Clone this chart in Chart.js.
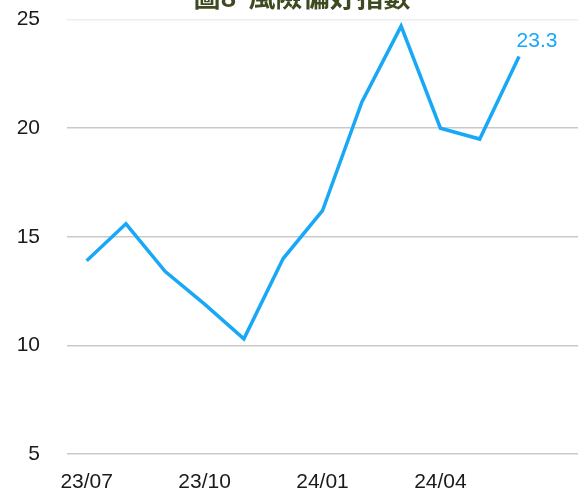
<!DOCTYPE html>
<html>
<head>
<meta charset="utf-8">
<script src="https://cdn.jsdelivr.net/npm/chart.js@4"></script>
<style>
  html, body { margin: 0; padding: 0; background: #ffffff; }
  #wrap { position: relative; width: 578px; height: 491px; overflow: hidden; }
  #box { position: absolute; left: 0; top: -20px; width: 604px; height: 515px; }
</style>
</head>
<body>
<div id="wrap"><div id="box"><canvas id="c"></canvas></div></div>
<script>
const chartTitle = '圖8  風險偏好指數';
const categories = ['23/07','23/08','23/09','23/10','23/11','23/12','24/01','24/02','24/03','24/04','24/05','24/06'];
const riskIndex = [13.9, 15.6, 13.4, 11.9, 10.3, 14.0, 16.2, 21.2, 24.7, 20.0, 19.5, 23.3];
const shownTicks = ['23/07','23/10','24/01','24/04'];
const yTicks = [5, 10, 15, 20, 25];

const lineColor = '#18a8f6';
const labels = categories.concat(['']);

const lastLabel = {
  id: 'lastLabel',
  afterDatasetsDraw(chart) {
    const meta = chart.getDatasetMeta(0);
    const i = riskIndex.length - 1;
    const pt = meta.data[i];
    const ctx = chart.ctx;
    ctx.save();
    ctx.font = '21px "Liberation Sans", Arial, sans-serif';
    ctx.fillStyle = lineColor;
    ctx.textAlign = 'center';
    ctx.textBaseline = 'middle';
    ctx.fillText(riskIndex[i].toFixed(1), pt.x + 18, pt.y - 15);
    ctx.restore();
  }
};

new Chart(document.getElementById('c'), {
  type: 'line',
  data: {
    labels: labels,
    datasets: [{
      data: riskIndex,
      yAxisID: 'y',
      borderColor: lineColor,
      backgroundColor: lineColor,
      borderWidth: 3.5,
      pointRadius: 0,
      tension: 0,
      fill: false
    }]
  },
  options: {
    responsive: true,
    maintainAspectRatio: false,
    animation: false,
    devicePixelRatio: 1,
    layout: { padding: 0 },
    plugins: {
      legend: { display: false },
      tooltip: { enabled: false },
      title: {
        display: true,
        text: chartTitle,
        color: '#3e4a1f',
        font: { family: '"Noto Sans CJK TC", sans-serif', size: 27, weight: 'bold' },
        padding: { top: 0, bottom: 7 }
      }
    },
    scales: {
      x: {
        type: 'category',
        offset: true,
        grid: { display: false, drawTicks: false },
        border: { display: false },
        afterFit(scale) { scale.height = 41; },
        ticks: {
          autoSkip: false,
          maxRotation: 0,
          padding: 16,
          color: '#1a1a1a',
          font: { family: '"Liberation Sans", Arial, sans-serif', size: 21 },
          callback(value, index) {
            const l = labels[index];
            return shownTicks.includes(l) ? l : '';
          }
        }
      },
      y: {
        position: 'left',
        min: yTicks[0],
        max: yTicks[yTicks.length - 1],
        afterBuildTicks(scale) { scale.ticks = yTicks.map(v => ({ value: v })); },
        afterFit(scale) { scale.width = 67; },
        border: { display: false },
        grid: {
          drawTicks: false,
          lineWidth: 1.5,
          color(ctx) { return ctx.tick && ctx.tick.value === 25 ? '#eeeeee' : '#c9c9c9'; }
        },
        ticks: {
          padding: 27,
          color: '#1a1a1a',
          font: { family: '"Liberation Sans", Arial, sans-serif', size: 21 }
        }
      },
      yRight: {
        position: 'right',
        min: yTicks[0],
        max: yTicks[yTicks.length - 1],
        afterFit(scale) { scale.width = 26; },
        border: { display: false },
        grid: { display: false, drawTicks: false },
        ticks: { display: false }
      }
    }
  },
  plugins: [lastLabel]
});
</script>
</body>
</html>
